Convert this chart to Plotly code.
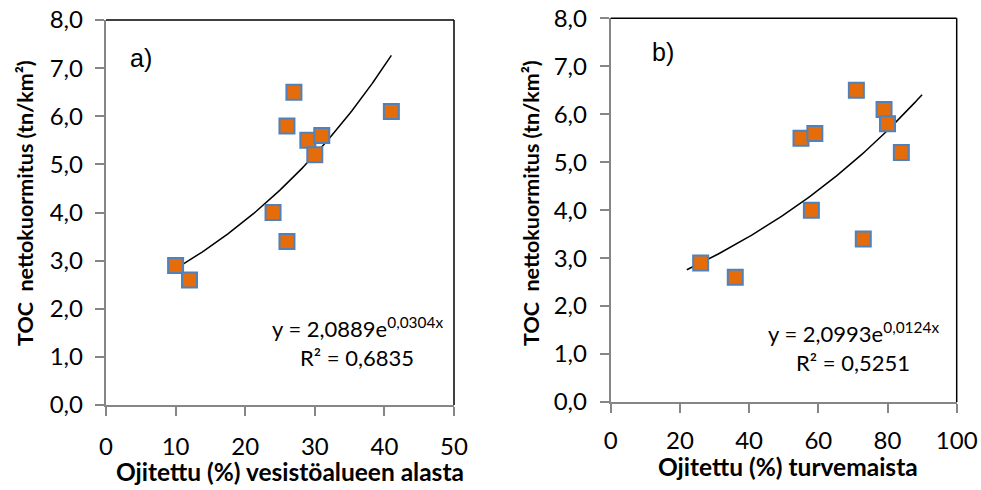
import numpy as np
import plotly.graph_objects as go

# Panel a) data
xa = [10, 12, 27, 26, 29, 31, 30, 24, 26, 41]
ya = [2.9, 2.6, 6.5, 5.8, 5.5, 5.6, 5.2, 4.0, 3.4, 6.1]
# Panel b) data
xb = [26, 36, 55, 59, 58, 71, 73, 79, 80, 84]
yb = [2.9, 2.6, 5.5, 5.6, 4.0, 6.5, 3.4, 6.1, 5.8, 5.2]

# Trendline equations shown in the chart
coef_a, exp_a = 2.0889, 0.0304
coef_b, exp_b = 2.0993, 0.0124
trend_a_range = (10, 41)
trend_b_range = (22, 90)

yticks = [0, 1, 2, 3, 4, 5, 6, 7, 8]
xticks_a = [0, 10, 20, 30, 40, 50]
xticks_b = [0, 20, 40, 60, 80, 100]

W, H = 981, 490
FONT = "Lato"
ORANGE = "#E46C0A"
BLUE = "#4F81BD"
GRAY = "#868686"

fig = go.Figure()

marker = dict(symbol="square", size=15, color=ORANGE, line=dict(color=BLUE, width=2))

ta = np.linspace(*trend_a_range, 100)
tb = np.linspace(*trend_b_range, 100)
fig.add_trace(go.Scatter(x=ta, y=coef_a * np.exp(exp_a * ta), mode="lines",
                         line=dict(color="black", width=1.5), xaxis="x", yaxis="y", showlegend=False))
fig.add_trace(go.Scatter(x=xa, y=ya, mode="markers", marker=marker, xaxis="x", yaxis="y", showlegend=False))
fig.add_trace(go.Scatter(x=tb, y=coef_b * np.exp(exp_b * tb), mode="lines",
                         line=dict(color="black", width=1.5), xaxis="x2", yaxis="y2", showlegend=False))
fig.add_trace(go.Scatter(x=xb, y=yb, mode="markers", marker=marker, xaxis="x2", yaxis="y2", showlegend=False))
# invisible traces so the label-only y axes are drawn
fig.add_trace(go.Scatter(x=[None], y=[None], xaxis="x", yaxis="y3", showlegend=False, hoverinfo="skip"))
fig.add_trace(go.Scatter(x=[None], y=[None], xaxis="x2", yaxis="y4", showlegend=False, hoverinfo="skip"))

def px(x):
    return x / W

def py(y):
    return 1 - y / H

TICKFONT = dict(family=FONT, size=24, color="black")
common = dict(showgrid=False, zeroline=False, showline=True, linecolor=GRAY, linewidth=1.5,
              ticks="outside", ticklen=9, tickcolor=GRAY, tickwidth=1.5, tickfont=TICKFONT,
              automargin=False)
common_y = dict(tickvals=yticks, range=[0, 8], showgrid=False, zeroline=False, showline=True,
                linecolor=GRAY, linewidth=1.5, ticks="outside", ticklen=9, tickcolor=GRAY,
                tickwidth=1.5, showticklabels=False, automargin=False)
label_y = dict(tickvals=yticks, tickformat=".1f", range=[0, 8], showgrid=False, zeroline=False,
               showline=False, ticks="", tickfont=TICKFONT, side="left", anchor="free",
               automargin=False)

fig.update_layout(
    width=W, height=H,
    margin=dict(l=0, r=0, t=0, b=0),
    paper_bgcolor="white", plot_bgcolor="white",
    separators=", ",
    xaxis=dict(domain=[px(106), px(454)], range=[0, 50], tickvals=xticks_a, anchor="y",
               ticklabelstandoff=10, **common),
    yaxis=dict(domain=[py(405), py(20)], anchor="x", **common_y),
    yaxis3=dict(overlaying="y", position=px(83), **label_y),
    xaxis2=dict(domain=[px(610.7), px(956.7)], range=[0, 100], tickvals=xticks_b, anchor="y2",
                ticklabelstandoff=7, **common),
    yaxis2=dict(domain=[py(402), py(18.3)], anchor="x2", **common_y),
    yaxis4=dict(overlaying="y2", position=px(587), **label_y),
)

# black top/right frame lines
for xr, yr in (("x", "y"), ("x2", "y2")):
    fig.add_shape(type="line", xref=f"{xr} domain", yref=f"{yr} domain", x0=0, x1=1, y0=1, y1=1,
                  line=dict(color="black", width=1.5))
    fig.add_shape(type="line", xref=f"{xr} domain", yref=f"{yr} domain", x0=1, x1=1, y0=0, y1=1,
                  line=dict(color="black", width=1.5))

def ann(text, x, y, size, bold=False, angle=0, xanchor="center", family=FONT):
    fig.add_annotation(text=f"<b>{text}</b>" if bold else text, x=px(x), y=py(y),
                       xref="paper", yref="paper", xanchor=xanchor, yanchor="middle",
                       showarrow=False, textangle=angle, borderpad=0,
                       font=dict(family=family, size=size, color="black"))

ytitle = "TOC\u00a0\u00a0nettokuormitus (tn/km²)"
ann(ytitle, 25, 203, 21.5, bold=True, angle=-90)
ann(ytitle, 531, 203, 21.5, bold=True, angle=-90)
ann("Ojitettu (%) vesistöalueen alasta", 290, 471, 24.5, bold=True)
ann("Ojitettu (%) turvemaista", 788, 466, 24.5, bold=True)
ann("a)", 129, 58, 25, xanchor="left", family="Liberation Sans")
ann("b)", 651, 52, 25, xanchor="left", family="Liberation Sans")
ann("y = 2,0889e<sup>0,0304x</sup>", 357, 327, 22)
ann("R² = 0,6835", 357, 357, 22)
ann("y = 2,0993e<sup>0,0124x</sup>", 853, 332, 22)
ann("R² = 0,5251", 853, 362, 22)

fig.write_html(
    "out.html",
    config={"displayModeBar": False},
    post_script="document.body.style.margin='0';document.body.style.overflow='hidden';",
)
